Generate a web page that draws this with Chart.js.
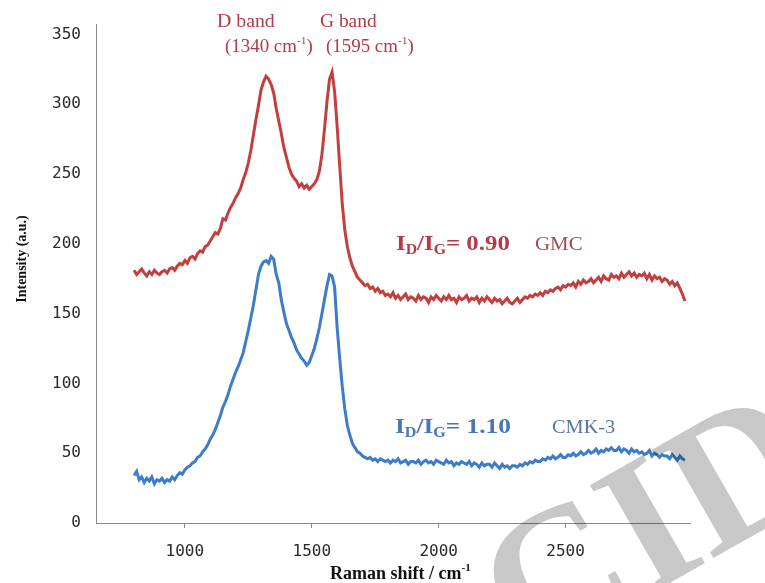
<!DOCTYPE html>
<html>
<head>
<meta charset="utf-8">
<script src="https://cdn.jsdelivr.net/npm/chart.js@4.4.0/dist/chart.umd.min.js"></script>
<style>
  html, body { margin: 0; padding: 0; background: #fff; }
  #wrap { width: 765px; height: 583px; position: relative; overflow: hidden; }
</style>
</head>
<body>
<div id="wrap"><canvas id="raman" width="765" height="583"></canvas></div>
<script>
// Raman shift (cm-1), one sample every 10 cm-1
const shift = [
  800, 810, 820, 830, 840, 850, 860, 870, 880, 890,
  900, 910, 920, 930, 940, 950, 960, 970, 980, 990,
  1000, 1010, 1020, 1030, 1040, 1050, 1060, 1070, 1080, 1090,
  1100, 1110, 1120, 1130, 1140, 1150, 1160, 1170, 1180, 1190,
  1200, 1210, 1220, 1230, 1240, 1250, 1260, 1270, 1280, 1290,
  1300, 1310, 1320, 1330, 1340, 1350, 1360, 1370, 1380, 1390,
  1400, 1410, 1420, 1430, 1440, 1450, 1460, 1470, 1480, 1490,
  1500, 1510, 1520, 1530, 1540, 1550, 1560, 1570, 1580, 1590,
  1600, 1610, 1620, 1630, 1640, 1650, 1660, 1670, 1680, 1690,
  1700, 1710, 1720, 1730, 1740, 1750, 1760, 1770, 1780, 1790,
  1800, 1810, 1820, 1830, 1840, 1850, 1860, 1870, 1880, 1890,
  1900, 1910, 1920, 1930, 1940, 1950, 1960, 1970, 1980, 1990,
  2000, 2010, 2020, 2030, 2040, 2050, 2060, 2070, 2080, 2090,
  2100, 2110, 2120, 2130, 2140, 2150, 2160, 2170, 2180, 2190,
  2200, 2210, 2220, 2230, 2240, 2250, 2260, 2270, 2280, 2290,
  2300, 2310, 2320, 2330, 2340, 2350, 2360, 2370, 2380, 2390,
  2400, 2410, 2420, 2430, 2440, 2450, 2460, 2470, 2480, 2490,
  2500, 2510, 2520, 2530, 2540, 2550, 2560, 2570, 2580, 2590,
  2600, 2610, 2620, 2630, 2640, 2650, 2660, 2670, 2680, 2690,
  2700, 2710, 2720, 2730, 2740, 2750, 2760, 2770, 2780, 2790,
  2800, 2810, 2820, 2830, 2840, 2850, 2860, 2870, 2880, 2890,
  2900, 2910, 2920, 2930, 2940, 2950, 2960, 2970
];

// GMC spectrum (red)
const gmc = [
  181, 178, 180, 182, 179, 177, 180, 178, 181, 179,
  178, 180, 181, 179, 182, 183, 181, 184, 186, 185,
  188, 186, 190, 191, 189, 193, 195, 194, 198, 199,
  202, 205, 208, 207, 211, 218, 217, 222, 226, 229,
  233, 236, 240, 246, 251, 258, 267, 278, 289, 299,
  310, 316, 320, 318, 314, 308, 297, 288, 279, 269,
  262, 255, 250, 247, 245, 241, 243, 240, 242, 239,
  241, 243, 246, 252, 264, 282, 302, 318, 323, 309,
  284, 256, 229, 210, 198, 190, 184, 180, 176, 174,
  172, 170, 171, 168, 169, 166, 168, 165, 166, 163,
  164, 162, 165, 161, 163, 160, 162, 164, 160, 162,
  161, 159, 163, 160, 162, 161, 158, 162, 160, 163,
  161, 159, 162, 160, 163, 160, 161, 158, 162, 160,
  161, 163, 159, 161, 160, 162, 158, 161, 159, 162,
  160, 158, 161, 159, 160, 157, 159, 161, 158, 157,
  159, 161, 158, 160, 162, 161, 163, 162, 164, 163,
  165, 163, 166, 165, 167, 166, 168, 169, 167, 170,
  169, 171, 170, 172, 169, 173, 171, 174, 172, 173,
  175, 172, 174, 176, 173, 177, 175, 174, 178, 176,
  177, 175, 179, 176, 178, 180, 177, 179, 176, 178,
  177, 179, 175, 178, 174, 177, 175, 176, 173, 175,
  174, 171, 173, 170, 172, 168, 164, 159
];

// CMK-3 spectrum (blue)
const cmk3 = [
  34, 37, 31, 33, 29, 32, 30, 33, 28, 31,
  30, 32, 29, 31, 30, 33, 31, 34, 36, 35,
  38, 40, 41, 43, 44, 47, 48, 51, 53, 56,
  60, 63, 67, 72, 77, 83, 87, 92, 98, 103,
  108, 112, 117, 122, 130, 138, 147, 156, 167, 178,
  184, 187, 188, 186, 191, 189, 178, 172, 160, 151,
  143, 138, 133, 129, 124, 121, 118, 116, 113, 115,
  120, 125, 132, 140, 150, 160, 170, 178, 177, 169,
  140, 118, 98, 82, 70, 63, 57, 54, 51, 50,
  48, 47, 46, 47, 45, 46, 44, 46, 45, 44,
  45, 43, 45, 44, 46, 43, 44, 45, 42, 44,
  44, 43, 45, 42, 44, 45, 43, 44, 42, 45,
  44, 43, 42, 45, 43, 44, 41, 43, 42, 44,
  43, 42, 44, 41, 43, 42, 40, 43, 41, 42,
  42, 40, 43, 41, 39, 42, 40, 41, 39, 41,
  41, 40, 42, 41, 43, 42, 44, 43, 45, 44,
  44, 46, 45, 47, 46, 48, 46, 47, 49, 47,
  47, 49, 48, 50, 48, 49, 51, 49, 50, 52,
  50, 51, 53, 50, 52, 51, 53, 52, 54, 52,
  52, 54, 51, 53, 52, 50, 53, 51, 52, 50,
  51, 49, 50, 52, 48, 50, 49, 47, 49, 48,
  48, 46, 49, 47, 45, 48, 46, 45
];

const xTicks = [1000, 1500, 2000, 2500];
const yTicks = [0, 50, 100, 150, 200, 250, 300, 350];

const RED = '#c33f3e';
const BLUE = '#3d7cc9';
const SERIF = '"Liberation Serif", "Times New Roman", serif';
const TICK_FONT = { family: '"DejaVu Sans Mono", monospace', size: 16 };

function toPoints(ys) {
  return shift.map((x, i) => ({ x: x, y: ys[i] }));
}

// draws a run of text pieces (sub/superscripts) left to right, stretched by sx
function drawRich(ctx, x, y, parts, color, sx) {
  ctx.save();
  ctx.translate(x, y);
  ctx.scale(sx || 1, 1);
  ctx.fillStyle = color;
  ctx.textBaseline = 'alphabetic';
  ctx.textAlign = 'left';
  let cx = 0;
  parts.forEach(p => {
    ctx.font = (p.b ? 'bold ' : '') + p.s + 'px ' + SERIF;
    ctx.fillText(p.t, cx, p.dy || 0);
    cx += ctx.measureText(p.t).width;
  });
  ctx.restore();
}

const labelsPlugin = {
  id: 'ramanLabels',
  afterDatasetsDraw(chart) {
    const ctx = chart.ctx;
    ctx.save();

    // peak labels
    const peakColor = '#b23a47';
    drawRich(ctx, 217, 27, [{ t: 'D band', s: 18 }], peakColor, 1.1);
    drawRich(ctx, 225, 52, [{ t: '(1340 cm', s: 18 }, { t: '-1', s: 11, dy: -8 }, { t: ')', s: 18 }], peakColor, 1.05);
    drawRich(ctx, 320, 27, [{ t: 'G band', s: 18 }], peakColor, 1.08);
    drawRich(ctx, 326, 52, [{ t: '(1595 cm', s: 18 }, { t: '-1', s: 11, dy: -8 }, { t: ')', s: 18 }], peakColor, 1.05);

    // ratio labels
    drawRich(ctx, 396, 250, [
      { t: 'I', s: 22, b: true }, { t: 'D', s: 14, b: true, dy: 4 },
      { t: '/I', s: 22, b: true }, { t: 'G', s: 14, b: true, dy: 4 },
      { t: '= 0.90', s: 22, b: true }
    ], '#b53a45', 1.13);
    drawRich(ctx, 535, 250, [{ t: 'GMC', s: 19 }], '#a8464f', 1.1);

    drawRich(ctx, 395, 433, [
      { t: 'I', s: 22, b: true }, { t: 'D', s: 14, b: true, dy: 4 },
      { t: '/I', s: 22, b: true }, { t: 'G', s: 14, b: true, dy: 4 },
      { t: '= 1.10', s: 22, b: true }
    ], '#4777b8', 1.15);
    drawRich(ctx, 552, 433, [{ t: 'CMK-3', s: 19 }], '#55779f', 1.07);

    // axis titles
    ctx.save();
    ctx.translate(26, 259);
    ctx.rotate(-Math.PI / 2);
    ctx.font = 'bold 14px ' + SERIF;
    const yTitle = 'Intensity (a.u.)';
    const w = ctx.measureText(yTitle).width;
    ctx.fillStyle = '#111';
    ctx.fillText(yTitle, -w / 2, 0);
    ctx.restore();

    drawRich(ctx, 330, 579, [
      { t: 'Raman shift / cm', s: 18, b: true },
      { t: '-1', s: 11, b: true, dy: -8 }
    ], '#111', 1.0);

    // grey watermark fragment in the lower right corner
    ctx.save();
    ctx.globalCompositeOperation = 'multiply';
    ctx.translate(640, 600);
    ctx.rotate(-0.52);
    ctx.font = 'bold 190px ' + SERIF;
    ctx.fillStyle = 'rgb(200,200,200)';
    ctx.fillText('CID', -130, 0);
    ctx.restore();

    ctx.restore();
  }
};

const chart = new Chart(document.getElementById('raman'), {
  type: 'line',
  data: {
    datasets: [
      { label: 'GMC', data: toPoints(gmc), borderColor: RED, borderWidth: 3, pointRadius: 0, tension: 0, fill: false },
      { label: 'CMK-3', data: toPoints(cmk3), borderColor: BLUE, borderWidth: 3, pointRadius: 0, tension: 0, fill: false }
    ]
  },
  options: {
    responsive: false,
    animation: false,
    devicePixelRatio: 1,
    layout: { padding: { left: 0, right: 75, top: 23, bottom: 0 } },
    plugins: {
      legend: { display: false },
      tooltip: { enabled: false }
    },
    scales: {
      x: {
        type: 'linear',
        min: 650,
        max: 2990,
        afterBuildTicks: s => { s.ticks = xTicks.map(v => ({ value: v })); },
        afterFit: s => { s.height = 60; },
        grid: { drawOnChartArea: false, drawTicks: true, tickLength: 5, color: '#8a8a8a' },
        border: { display: true, color: '#8a8a8a', width: 1 },
        ticks: {
          padding: 14,
          color: '#2a2a2a',
          maxRotation: 0,
          font: TICK_FONT,
          callback: v => String(v)
        }
      },
      y: {
        min: 0,
        max: 357,
        afterBuildTicks: s => { s.ticks = yTicks.map(v => ({ value: v })); },
        afterFit: s => { s.width = 96; },
        grid: { drawOnChartArea: false, drawTicks: false, color: '#8a8a8a' },
        border: { display: true, color: '#8a8a8a', width: 1 },
        ticks: {
          padding: 15,
          color: '#2a2a2a',
          font: TICK_FONT,
          callback: v => String(v)
        }
      }
    }
  },
  plugins: [labelsPlugin]
});
</script>
</body>
</html>
